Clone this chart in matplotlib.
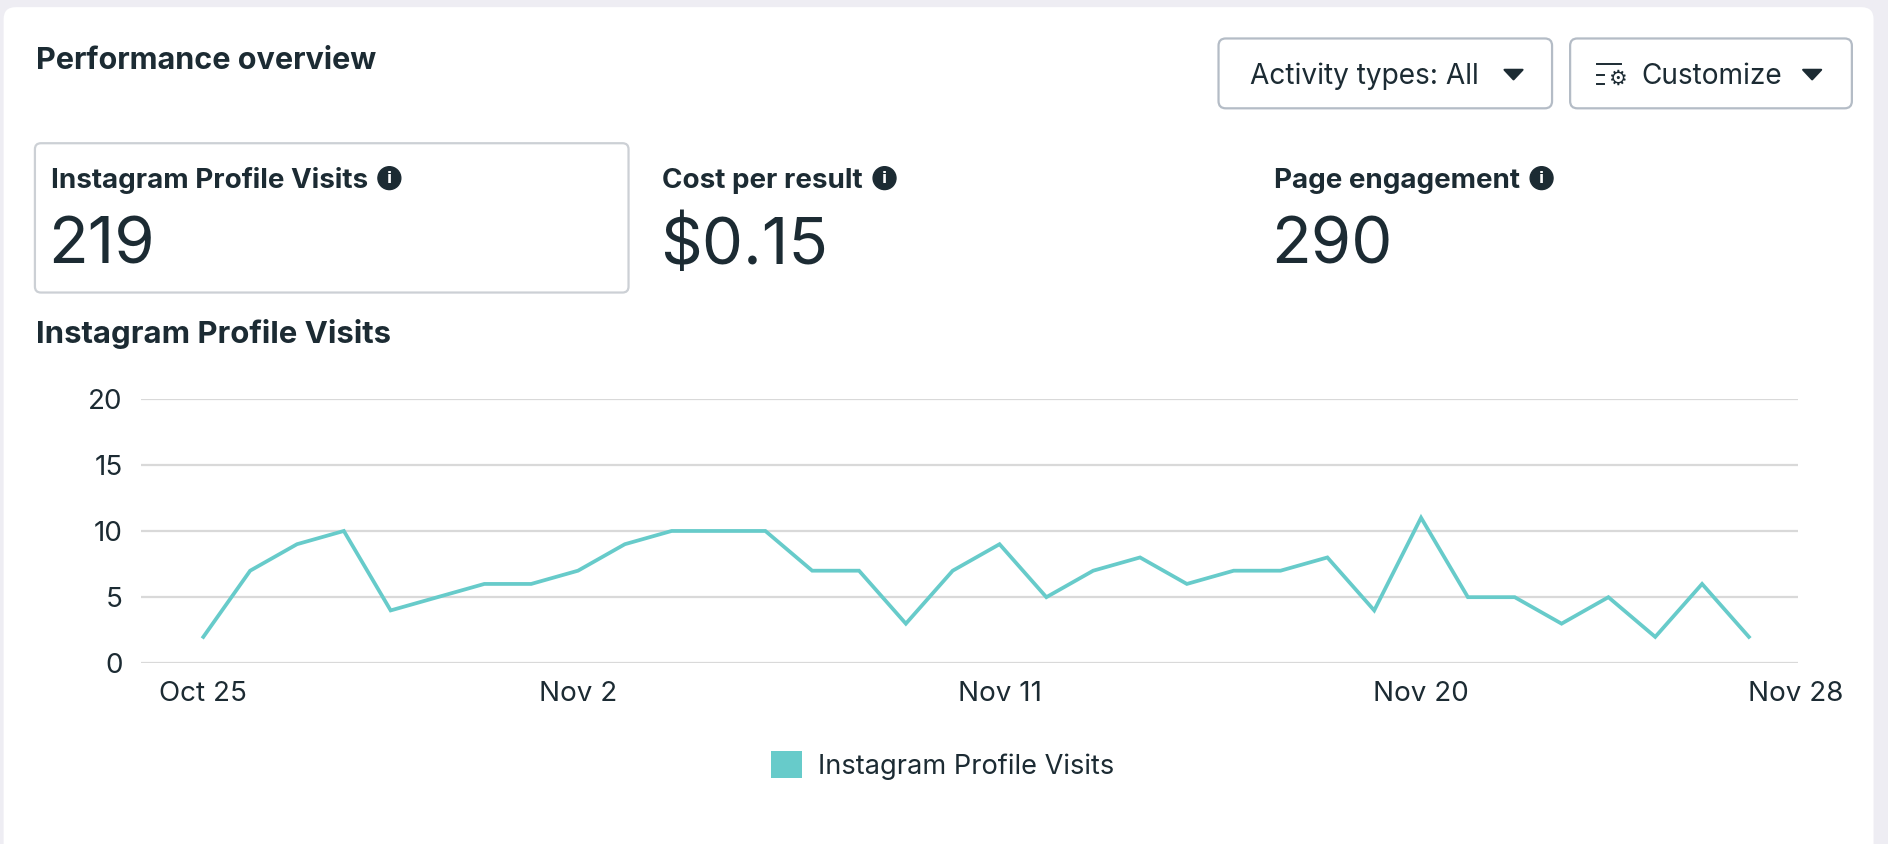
import numpy as np
import matplotlib.pyplot as plt
from matplotlib.patches import FancyBboxPatch, Circle, Polygon, Patch
from matplotlib.transforms import IdentityTransform

# data
dates = np.arange(np.datetime64('2023-10-25'), np.datetime64('2023-11-28'))
visits = [2, 7, 9, 10, 4, 5, 6, 6, 7, 9, 10, 10, 10, 7, 7, 3, 7, 9, 5, 7,
          8, 6, 7, 7, 8, 4, 11, 5, 5, 3, 5, 2, 6, 2]
tick_dates = np.array(['2023-10-25', '2023-11-02', '2023-11-11', '2023-11-20', '2023-11-28'],
                      dtype='datetime64[D]')
tick_labels = ['Oct 25', 'Nov 2', 'Nov 11', 'Nov 20', 'Nov 28']
y_ticks = [0, 5, 10, 15, 20]

kpi_names = ['Instagram Profile Visits', 'Cost per result', 'Page engagement']
kpi_values = ['219', '$0.15', '290']

TEXT = '#1c2b33'
TEAL = '#67cbca'
GRID = '#d9d9d9'

plt.rcParams['font.family'] = ['Inter', 'DejaVu Sans']

# layout measured on a 1568x701 view of the page
W, H = 1568, 701
S = 1888 / W


def fx(x):
    return x / W


def fy(y):
    return 1 - y / H


def pbox(x0, y0, x1, y1, r, **kw):
    # box in page pixels, drawn in real pixels
    return FancyBboxPatch((x0 * S, (H - y1) * S), (x1 - x0) * S, (y1 - y0) * S,
                          boxstyle=f'round,pad=0,rounding_size={r * S}',
                          transform=IdentityTransform(), **kw)


def info_icon(fig, x, y):
    fig.add_artist(Circle((x * S, (H - y) * S), 9.5 * S, color=TEXT,
                          transform=IdentityTransform()))
    fig.text(fx(x), fy(y + 0.5), 'i', color='white', fontsize=11, fontweight='bold',
             ha='center', va='center', family='DejaVu Sans')


def triangle(fig, x, y):
    pts = [((x - 7.5) * S, (H - y + 4) * S), ((x + 7.5) * S, (H - y + 4) * S),
           (x * S, (H - y - 4) * S)]
    fig.add_artist(Polygon(pts, closed=True, color=TEXT, transform=IdentityTransform(),
                           joinstyle='round', lw=1.5))


fig = plt.figure(figsize=(18.88, 8.44), dpi=100)
fig.patch.set_facecolor('#eeedf3')
fig.add_artist(pbox(3, 6, 1556, 760, 10, facecolor='white', edgecolor='none', zorder=-10))

fig.text(fx(30), fy(57), 'Performance overview', fontsize=22, fontweight='bold',
         color=TEXT, va='baseline')

# buttons
fig.add_artist(pbox(1012, 32, 1289, 90, 6, facecolor='white', edgecolor='#b4bcc6', lw=1.6))
fig.text(fx(1038), fy(70), 'Activity types: All', fontsize=20.2, color=TEXT, va='baseline')
triangle(fig, 1257, 62)

fig.add_artist(pbox(1304, 32, 1538, 90, 6, facecolor='white', edgecolor='#b4bcc6', lw=1.6))
fig.add_artist(plt.Line2D([fx(1326), fx(1346)], [fy(53), fy(53)], color=TEXT, lw=1.4))
fig.add_artist(plt.Line2D([fx(1326), fx(1332)], [fy(62), fy(62)], color=TEXT, lw=1.4))
fig.add_artist(plt.Line2D([fx(1326), fx(1332)], [fy(70), fy(70)], color=TEXT, lw=1.4))
fig.text(fx(1343), fy(65), '\u2699', fontsize=15, color=TEXT, ha='center', va='center',
         family='DejaVu Sans', fontweight='bold')
fig.text(fx(1363), fy(70), 'Customize', fontsize=20.2, color=TEXT, va='baseline')
triangle(fig, 1505, 62)

# kpi cards
fig.add_artist(pbox(29, 119, 522, 243, 5, facecolor='white', edgecolor='#ccd0d5', lw=1.6))
kpi_x = [42, 550, 1058]
for x, name, val in zip(kpi_x, kpi_names, kpi_values):
    t = fig.text(fx(x), fy(156), name, fontsize=20, fontweight='bold', color=TEXT,
                 va='baseline')
    fig.canvas.draw()
    bb = t.get_window_extent()
    info_icon(fig, bb.x1 / S + 18, 148)
    fig.text(fx(x - 2), fy(219), val, fontsize=47, color=TEXT, va='baseline')

fig.text(fx(30), fy(285), 'Instagram Profile Visits', fontsize=22.4, fontweight='bold',
         color=TEXT, va='baseline')

# chart
ax = fig.add_axes([fx(117), fy(551), (1493 - 117) / W, (551 - 331) / H])
ax.patch.set_alpha(0)
ax.plot(dates, visits, color=TEAL, lw=2.7, solid_joinstyle='miter', clip_on=False,
        label='Instagram Profile Visits', zorder=3)
ax.set_ylim(0, 20)
ax.set_yticks(y_ticks)
ax.set_xlim(dates[0] - np.timedelta64(32, 'h'), tick_dates[-1] + np.timedelta64(1, 'h'))
ax.set_xticks(tick_dates)
ax.set_xticklabels(tick_labels)
ax.grid(axis='y', color=GRID, lw=1.6)
ax.set_axisbelow(True)
for s in ax.spines.values():
    s.set_visible(False)
ax.tick_params(length=0, labelsize=20, labelcolor=TEXT)
ax.tick_params(axis='y', pad=13)
ax.tick_params(axis='x', pad=13)

fig.legend(handles=[Patch(facecolor=TEAL, edgecolor='none', label='Instagram Profile Visits')],
           loc='center', bbox_to_anchor=(fx(783), fy(636)), frameon=False, fontsize=19.6,
           handlelength=1.15, handleheight=1.15, handletextpad=0.6, labelcolor=TEXT)

fig.savefig('out.png', dpi=100, facecolor=fig.get_facecolor())
